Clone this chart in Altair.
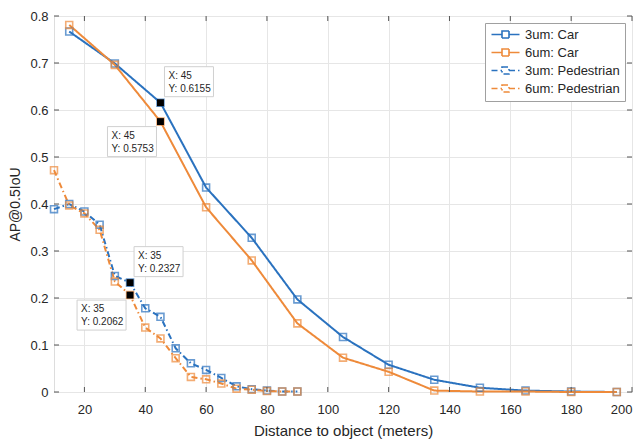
import altair as alt
import pandas as pd

# ---- data ----
car_x = [15, 30, 45, 60, 75, 90, 105, 120, 135, 150, 165, 180, 195]
car_3um = [0.767, 0.699, 0.6155, 0.435, 0.328, 0.197, 0.117, 0.058, 0.026, 0.009, 0.003, 0.001, 0.000]
car_6um = [0.781, 0.696, 0.5753, 0.393, 0.280, 0.146, 0.073, 0.043, 0.003, 0.001, 0.001, 0.000, 0.000]

ped_x = [10, 15, 20, 25, 30, 35, 40, 45, 50, 55, 60, 65, 70, 75, 80, 85, 90]
ped_3um = [0.389, 0.400, 0.384, 0.356, 0.247, 0.2327, 0.178, 0.160, 0.093, 0.061, 0.047, 0.030,
           0.012, 0.006, 0.003, 0.001, 0.001]
ped_6um = [0.472, 0.397, 0.380, 0.345, 0.235, 0.2062, 0.137, 0.114, 0.072, 0.032, 0.027, 0.018,
           0.007, 0.005, 0.002, 0.001, 0.001]

series_names = ["3um: Car", "6um: Car", "3um: Pedestrian", "6um: Pedestrian"]

# data tips (x, y, placement)
tip_x = [45, 45, 35, 35]
tip_y = [0.6155, 0.5753, 0.2327, 0.2062]
tip_side = ["ur", "ll", "ur", "ll"]

x_ticks = [20, 40, 60, 80, 100, 120, 140, 160, 180, 200]
y_ticks = [0, 0.1, 0.2, 0.3, 0.4, 0.5, 0.6, 0.7, 0.8]

BLUE = "#2a72bf"
ORANGE = "#ee8a3a"
W, H = 578, 376

rows = []
for name, xs, ys in [(series_names[0], car_x, car_3um), (series_names[1], car_x, car_6um),
                     (series_names[2], ped_x, ped_3um), (series_names[3], ped_x, ped_6um)]:
    for i, (xv, yv) in enumerate(zip(xs, ys)):
        rows.append({"series": name, "x": xv, "y": yv, "order": i})
df = pd.DataFrame(rows)

tips = pd.DataFrame({"x": tip_x, "y": tip_y, "side": tip_side})
tips["label"] = [f"X: {a}\nY: {b:.4f}" for a, b in zip(tip_x, tip_y)]

xscale = alt.Scale(domain=[10, 200], nice=False)
yscale = alt.Scale(domain=[0, 0.8], nice=False)

X = alt.X("x:Q", scale=xscale,
          axis=alt.Axis(values=x_ticks, title="Distance to object (meters)", grid=True,
                        gridColor="#e6e6e6", domain=False, ticks=False, labelPadding=11,
                        labelFontSize=13, titleFontSize=15, titleFontWeight="normal",
                        labelColor="#262626", titleColor="#262626", titlePadding=7,
                        labelFont="Liberation Sans", titleFont="Liberation Sans"))
Y = alt.Y("y:Q", scale=yscale,
          axis=alt.Axis(values=y_ticks, title="AP@0.5IoU", grid=True, gridColor="#e6e6e6",
                        domain=False, ticks=False, labelPadding=6, format=".1~f",
                        labelFontSize=13, titleFontSize=14, titleFontWeight="normal",
                        labelColor="#262626", titleColor="#262626", titlePadding=7,
                        labelFont="Liberation Sans", titleFont="Liberation Sans"))

color_scale = alt.Scale(domain=series_names, range=[BLUE, ORANGE, BLUE, ORANGE])
dash_scale = alt.Scale(domain=series_names, range=[[1, 0], [1, 0], [6, 3, 1.5, 3], [6, 3, 1.5, 3]])

legend_symbol = "M-2.8,0H-0.7M-0.7,-0.7H0.7V0.7H-0.7ZM0.7,0H2.8"

lines = alt.Chart(df).mark_line(strokeWidth=2).encode(
    x=X, y=Y,
    color=alt.Color("series:N", scale=color_scale, sort=series_names,
                    legend=alt.Legend(title=None, orient="top-right", offset=7,
                                      symbolType=legend_symbol, symbolSize=100,
                                      symbolStrokeWidth=1.6, symbolOffset=9,
                                      labelOffset=13, labelFontSize=13,
                                      labelFont="Liberation Sans", labelColor="#262626",
                                      fillColor="white", strokeColor="#a0a0a0",
                                      padding=5, rowPadding=3)),
    strokeDash=alt.StrokeDash("series:N", scale=dash_scale, sort=series_names, legend=None),
    order="order:Q",
)

points = alt.Chart(df).mark_point(shape="square", filled=False, size=48, strokeWidth=1.6).encode(
    x="x:Q", y="y:Q",
    color=alt.Color("series:N", scale=color_scale, legend=None),
)

tip_marks = alt.Chart(tips).mark_square(color="black", size=48, opacity=1).encode(x="x:Q", y="y:Q")

ur = tips[tips.side == "ur"]
ll = tips[tips.side == "ll"]

def tip_layer(data, dx0, dx1, dy0, dy1):
    box = alt.Chart(data).mark_rect(fill="white", stroke="#d0d0d0", strokeWidth=1,
                                    xOffset=dx0, x2Offset=dx1, yOffset=dy0, y2Offset=dy1).encode(
        x="x:Q", x2="x:Q", y="y:Q", y2="y:Q")
    txt = alt.Chart(data).mark_text(align="left", baseline="top", dx=dx0 + 4, dy=dy0 + 4,
                                    fontSize=10, lineHeight=13, lineBreak="\n",
                                    font="Liberation Sans", color="#262626").encode(
        x="x:Q", y="y:Q", text="label:N")
    return box + txt

ur_layer = tip_layer(ur, 4, 53, -36, -6)
ll_layer = tip_layer(ll, -53, -4, 5, 35)

xt = pd.DataFrame({"x": x_ticks})
yt = pd.DataFrame({"y": y_ticks})
tick_col = "#555555"
xt_bot = alt.Chart(xt).mark_rule(color=tick_col).encode(x="x:Q", y=alt.value(H), y2=alt.value(H - 5))
xt_top = alt.Chart(xt).mark_rule(color=tick_col).encode(x="x:Q", y=alt.value(0), y2=alt.value(5))
yt_left = alt.Chart(yt).mark_rule(color=tick_col).encode(y="y:Q", x=alt.value(0), x2=alt.value(5))
yt_right = alt.Chart(yt).mark_rule(color=tick_col).encode(y="y:Q", x=alt.value(W), x2=alt.value(W - 5))

chart = alt.layer(
    lines, points, tip_marks, ur_layer, ll_layer, xt_bot, xt_top, yt_left, yt_right
).resolve_scale(color="shared").properties(
    width=W, height=H,
    autosize=alt.AutoSizeParams(type="none"),
    padding={"left": 46, "top": 8, "right": 4, "bottom": 48},
).configure_view(stroke="#555555", strokeWidth=1).configure(background="white")

chart.save("out.html", embed_options={"renderer": "svg", "actions": False})
